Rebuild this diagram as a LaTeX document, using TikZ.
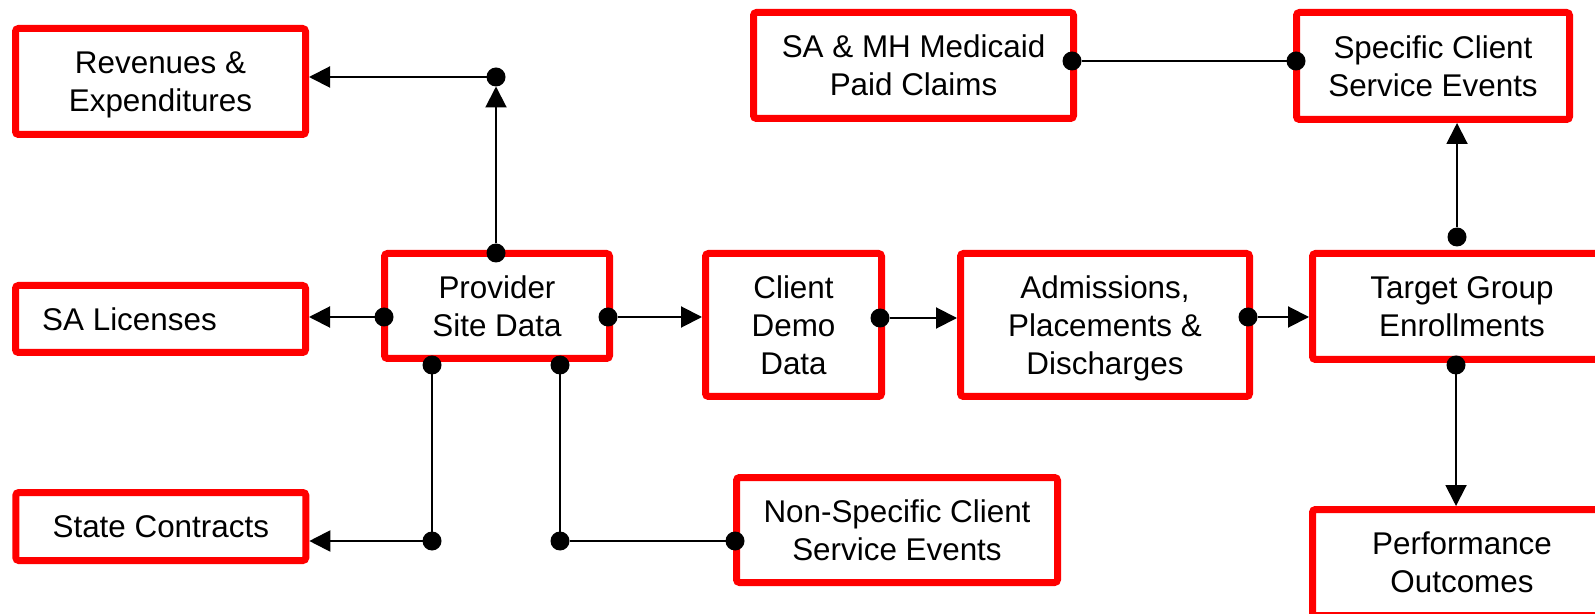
\documentclass[tikz,border=0pt]{standalone}
\usepackage{fontspec}
\setmainfont{Liberation Sans}
\usetikzlibrary{arrows.meta}
\usetikzlibrary{calc}

\begin{document}
\begin{tikzpicture}[x=0.5pt,y=-0.5pt,line width=1pt]
  \tikzstyle{blk}=[draw=red, line width=3.5pt, rounded corners=1.5pt, fill=white, align=center, inner sep=0pt, text depth=0pt, font=\fontsize{15.7}{19}\selectfont]
  \tikzstyle{dot}=[circle, fill=black, inner sep=0pt, outer sep=0pt, minimum size=9.5pt]
  \tikzstyle{arr}=[-{Triangle[length=10.5pt,width=10.5pt]}]
  \useasboundingbox (0,0) rectangle (1595,614);
  \clip (0,0) rectangle (1595,614);
  % boxes
  \node[blk, minimum width=145pt, minimum height=53pt]     (Rev)   at (160.5,81.5)  {Revenues \&\\Expenditures};
  \node[blk, minimum width=145pt, minimum height=33.5pt]   (Lic)   at (160.5,319)   {SA Licenses\hspace*{31pt}};
  \node[blk, minimum width=145pt, minimum height=34pt]     (Con)   at (160.8,526.5) {State Contracts};
  \node[blk, minimum width=112.5pt, minimum height=52.5pt] (Prov)  at (497,306)     {Provider\\Site Data};
  \node[blk, minimum width=88pt, minimum height=71.5pt]    (Demo)  at (793.5,325)   {Client\\Demo\\Data};
  \node[blk, minimum width=144.5pt, minimum height=71.5pt] (Adm)   at (1105,325)    {Admissions,\\Placements \&\\Discharges};
  \node[blk, minimum width=149.5pt, minimum height=53pt]   (Tgt)   at (1462,306.5)  {Target Group\\Enrollments};
  \node[blk, minimum width=149.5pt, minimum height=53pt]   (Perf)  at (1462,562.5)  {Performance\\Outcomes};
  \node[blk, minimum width=160.5pt, minimum height=52.5pt] (NonSp) at (897,530)     {Non-Specific Client\\Service Events};
  \node[blk, minimum width=160pt, minimum height=53pt]     (Med)   at (913.5,65.5)  {SA \& MH Medicaid\\Paid Claims};
  \node[blk, minimum width=136.5pt, minimum height=53.5pt] (Spec)  at (1433,66)     {Specific Client\\Service Events};
  % dots
  \node[dot] (Pt)  at (496,253)  {};
  \node[dot] (J1)  at (496,77)   {};
  \node[dot] (Pl)  at (384,317)  {};
  \node[dot] (Pr)  at (608,317)  {};
  \node[dot] (Pb1) at (432,365)  {};
  \node[dot] (Pb2) at (560,365)  {};
  \node[dot] (J2)  at (432,541)  {};
  \node[dot] (J3)  at (560,541)  {};
  \node[dot] (Nl)  at (735,541)  {};
  \node[dot] (Dr)  at (880,318)  {};
  \node[dot] (Ar)  at (1248,317) {};
  \node[dot] (Tt)  at (1457,237) {};
  \node[dot] (Tb)  at (1456,365) {};
  \node[dot] (Mr)  at (1072,61)  {};
  \node[dot] (Sl)  at (1296,61)  {};
  % connectors
  \path[arr]
    (Pt) edge (J1)
    (J1) edge (J1 -| Rev.east)
    (Pl) edge (Pl -| Lic.east)
    (J2) edge (J2 -| Con.east)
    (Pr) edge (Pr -| Demo.west)
    (Dr) edge (Dr -| Adm.west)
    (Ar) edge (Ar -| Tgt.west)
    (Tt) edge (Tt |- Spec.south)
    (Tb) edge (Tb |- Perf.north);
  \path
    (Pb1) edge (J2)
    (Pb2) edge (J3)
    (J3) edge (Nl)
    (Mr) edge (Sl);
\end{tikzpicture}
\end{document}
